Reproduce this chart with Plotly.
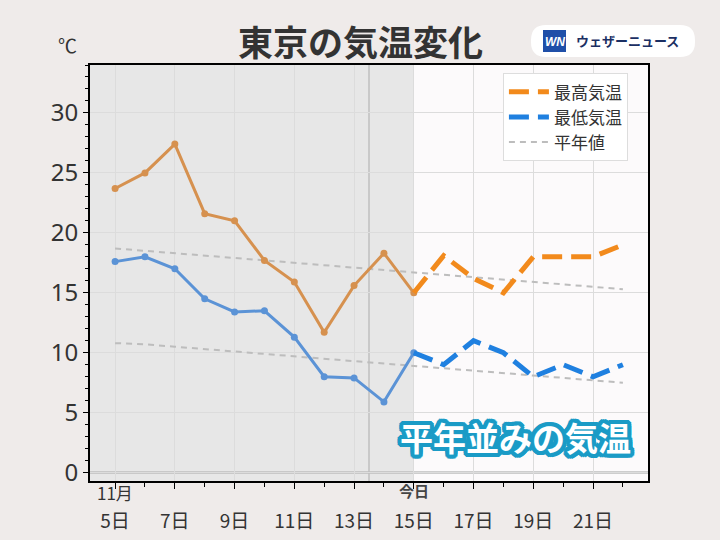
import plotly.graph_objects as go

days_obs = [5, 6, 7, 8, 9, 10, 11, 12, 13, 14, 15]
high_obs = [23.7, 25.0, 27.4, 21.6, 21.0, 17.7, 15.9, 11.7, 15.6, 18.3, 15.0]
low_obs = [17.6, 18.0, 17.0, 14.5, 13.4, 13.5, 11.3, 8.0, 7.9, 5.9, 10.0]

days_fc = [15, 16, 17, 18, 19, 20, 21, 22]
high_fc = [15.0, 18.1, 16.2, 15.0, 18.0, 18.0, 18.0, 19.0]
low_fc = [10.0, 9.0, 11.0, 10.0, 8.0, 9.0, 8.0, 9.0]

days_all = [5, 6, 7, 8, 9, 10, 11, 12, 13, 14, 15, 16, 17, 18, 19, 20, 21, 22]
normal_high = [18.7, 18.5, 18.3, 18.1, 17.9, 17.7, 17.5, 17.3, 17.1, 16.9, 16.7, 16.5, 16.3, 16.1, 15.9, 15.7, 15.5, 15.3]
normal_low = [10.8, 10.7, 10.5, 10.3, 10.1, 9.9, 9.7, 9.5, 9.3, 9.1, 8.9, 8.7, 8.5, 8.3, 8.1, 7.9, 7.7, 7.5]

tick_vals = [5, 7, 9, 11, 13, 15, 17, 19, 21]
tick_text = ["5日", "7日", "9日", "11日", "13日", "15日", "17日", "19日", "21日"]
month_label = "11月"
today_label = "今日"
today_day = 15
first_day = 5

FONT = "Noto Sans CJK JP"
fig = go.Figure()

fig.add_trace(go.Scatter(x=days_all, y=normal_high, mode="lines", name="平年値",
                         line=dict(color="#BDBDBD", width=2, dash="6px,5px"), showlegend=False))
fig.add_trace(go.Scatter(x=days_all, y=normal_low, mode="lines", name="平年値",
                         line=dict(color="#BDBDBD", width=2, dash="6px,5px"), showlegend=False))
fig.add_trace(go.Scatter(x=days_obs, y=high_obs, mode="lines+markers", showlegend=False,
                         line=dict(color="#D6914F", width=3), marker=dict(size=7, color="#D6914F")))
fig.add_trace(go.Scatter(x=days_obs, y=low_obs, mode="lines+markers", showlegend=False,
                         line=dict(color="#5B93D6", width=3), marker=dict(size=7, color="#5B93D6")))
fig.add_trace(go.Scatter(x=days_fc, y=high_fc, mode="lines", name="最高気温",
                         line=dict(color="#F28A1C", width=5, dash="20px,9px")))
fig.add_trace(go.Scatter(x=days_fc, y=low_fc, mode="lines", name="最低気温",
                         line=dict(color="#1F80E0", width=5, dash="20px,9px")))
fig.add_trace(go.Scatter(x=[None], y=[None], mode="lines", name="平年値",
                         line=dict(color="#BDBDBD", width=2, dash="6px,5px")))

# shaded observed area
fig.add_shape(type="rect", xref="x", yref="paper", x0=4.0, x1=today_day, y0=0, y1=1,
              fillcolor="#E7E7E7", line_width=0, layer="below")
# vertical marker line
fig.add_shape(type="line", xref="x", yref="paper", x0=13.5, x1=13.5, y0=0, y1=1,
              line=dict(color="#C9C9C9", width=2), layer="below")
# zero line
fig.add_shape(type="line", xref="paper", yref="y", x0=0, x1=1, y0=0, y1=0,
              line=dict(color="#BEBEBE", width=2.5), layer="below")

PW, PH, PL, PB = 558, 416, 90, 481
def px(x):
    return (x - PL) / PW
def py(y):
    return (PB - y) / PH

# logo pill
L, R, B, T = px(531), px(695), py(57), py(25)
rx, ry = 15 / PW, 15 / PH
path = (f"M{L+rx},{B} L{R-rx},{B} Q{R},{B} {R},{B+ry} L{R},{T-ry} Q{R},{T} {R-rx},{T} "
        f"L{L+rx},{T} Q{L},{T} {L},{T-ry} L{L},{B+ry} Q{L},{B} {L+rx},{B} Z")
fig.add_shape(type="path", xref="paper", yref="paper", path=path,
              fillcolor="white", line_width=0)
fig.add_shape(type="rect", xref="paper", yref="paper",
              x0=px(543), x1=px(566), y0=py(52), y1=py(30),
              fillcolor="#1F4FA8", line_width=0)

def ann(x, y, text, font):
    fig.add_annotation(xref="paper", yref="paper", x=px(x), y=py(y), text=text,
                       showarrow=False, xanchor="center", yanchor="middle", font=font)

ann(554.5, 41.5, "<b><i>WN</i></b>", dict(family="Liberation Sans", size=12, color="white"))
ann(627, 41, "<b>ウェザーニュース</b>", dict(family=FONT, size=13, color="#1B2F63"))
ann(360, 40, "<b>東京の気温変化</b>", dict(family=FONT, size=35, color="#333333"))
ann(67, 45, "℃", dict(family=FONT, size=19, color="#333333"))

# month / today labels above tick labels
fig.add_annotation(xref="x", yref="paper", x=first_day, y=py(493), text=month_label,
                   showarrow=False, xanchor="center", yanchor="middle",
                   font=dict(family=FONT, size=17, color="#333333"))
fig.add_annotation(xref="x", yref="paper", x=today_day, y=py(490), text=f"<b>{today_label}</b>",
                   showarrow=False, xanchor="center", yanchor="middle",
                   font=dict(family=FONT, size=15, color="#444444"))

outline = "#1A9BC6"
sh = ", ".join(f"{dx}px {dy}px 0 {outline}" for dx, dy in
               [(4, 0), (-4, 0), (0, 4), (0, -4), (3, 3), (-3, -3), (3, -3), (-3, 3),
                (4, 2), (-4, 2), (4, -2), (-4, -2), (2, 4), (-2, 4), (2, -4), (-2, -4)])
ann(515, 437, "<b>平年並みの気温</b>", dict(family=FONT, size=33, color="white", shadow=sh))

fig.update_layout(
    width=720, height=540,
    margin=dict(l=90, r=72, t=65, b=59, autoexpand=False),
    paper_bgcolor="#EFEBEA", plot_bgcolor="#FCFAFB",
    font=dict(family=FONT, color="#333333"),
    legend=dict(x=0.74, y=0.98, xanchor="left", yanchor="top", itemwidth=40,
                bgcolor="white", bordercolor="#DDDDDD", borderwidth=1,
                font=dict(size=17, color="#333333"), tracegroupgap=0),
)
fig.update_xaxes(range=[4.16, 22.84], tickvals=tick_vals, ticktext=tick_text, automargin=False,
                 showline=True, mirror=True, linecolor="black", linewidth=2,
                 ticks="outside", ticklen=6, tickcolor="black", ticklabelstandoff=16,
                 minor=dict(dtick=1, tick0=0, ticks="outside", ticklen=4, tickcolor="black", showgrid=False),
                 showgrid=True, gridcolor="#DCDCDC", gridwidth=1, zeroline=False,
                 tickfont=dict(size=19, color="#333333"))
fig.update_yaxes(range=[-0.7, 34], tickvals=[0, 5, 10, 15, 20, 25, 30], automargin=False,
                 showline=True, mirror=True, linecolor="black", linewidth=2,
                 ticks="outside", ticklen=5, tickcolor="black",
                 minor=dict(dtick=1, tick0=0, ticks="outside", ticklen=3, tickcolor="black", showgrid=False),
                 showgrid=True, gridcolor="#DCDCDC", gridwidth=1, zeroline=False,
                 tickfont=dict(family="Noto Sans", size=24, color="#333333"))

fig.write_html("out.html")
